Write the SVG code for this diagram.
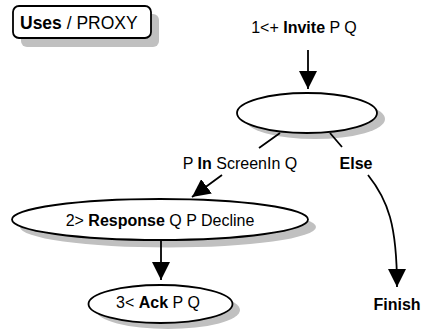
<svg xmlns="http://www.w3.org/2000/svg" width="426" height="329" viewBox="0 0 426 329">
<style>
text{font-family:"Liberation Sans",Arial,sans-serif;font-size:16px;fill:#000}
.b{font-weight:bold}
.shadow{fill:#c0c0c0;stroke:none}
.node{fill:#fff;stroke:#000;stroke-width:1.8}
.edge{fill:none;stroke:#000;stroke-width:1.8}
</style>
<defs>
<marker id="arr" viewBox="0 0 18 18" refX="18" refY="9" markerWidth="18" markerHeight="18" markerUnits="userSpaceOnUse" orient="auto">
<path d="M0,0 L18,9 L0,18 Z" fill="#000"/>
</marker>
</defs>
<rect width="426" height="329" fill="#fff"/>
<g id="uses">
<rect class="shadow" x="21" y="14" width="138" height="33" rx="6"/>
<rect class="node" x="13" y="6" width="138" height="32" rx="6" stroke-width="2"/>
<text x="20" y="29" style="font-size:17.5px"><tspan class="b">Uses</tspan> / PROXY</text>
</g>
<g id="start">
<text x="304" y="33" text-anchor="middle">1&lt;+ <tspan class="b">Invite</tspan> P Q</text>
</g>
<g id="choice">
<ellipse class="shadow" cx="315" cy="119" rx="70" ry="20"/>
<ellipse class="node" cx="307" cy="113" rx="70" ry="20"/>
</g>
<g id="response">
<ellipse class="shadow" cx="168" cy="227" rx="148" ry="20.5"/>
<ellipse class="node" cx="160" cy="219.5" rx="148" ry="20.5"/>
<text x="160" y="226" text-anchor="middle">2&gt; <tspan class="b">Response</tspan> Q P Decline</text>
</g>
<g id="ack">
<ellipse class="shadow" cx="168" cy="310" rx="72" ry="19"/>
<ellipse class="node" cx="160.5" cy="304" rx="72" ry="19"/>
<text x="158" y="308" text-anchor="middle">3&lt; <tspan class="b">Ack</tspan> P Q</text>
</g>
<g id="finish">
<text class="b" x="397" y="310" text-anchor="middle">Finish</text>
</g>
<g id="connectors">
<path class="edge" d="M308,50 L308,89" marker-end="url(#arr)"/>
<path class="edge" d="M280,133 L259,148 M222,175 L192,197" marker-end="url(#arr)"/>
<text x="240" y="169" text-anchor="middle">P <tspan class="b">In</tspan> ScreenIn Q</text>
<path class="edge" d="M161,240 L161,280" marker-end="url(#arr)"/>
<path class="edge" d="M330,133 L342,147 M368,175 C388,200 397,225 397,287" marker-end="url(#arr)"/>
<text class="b" x="356" y="169" text-anchor="middle">Else</text>
</g>
</svg>
